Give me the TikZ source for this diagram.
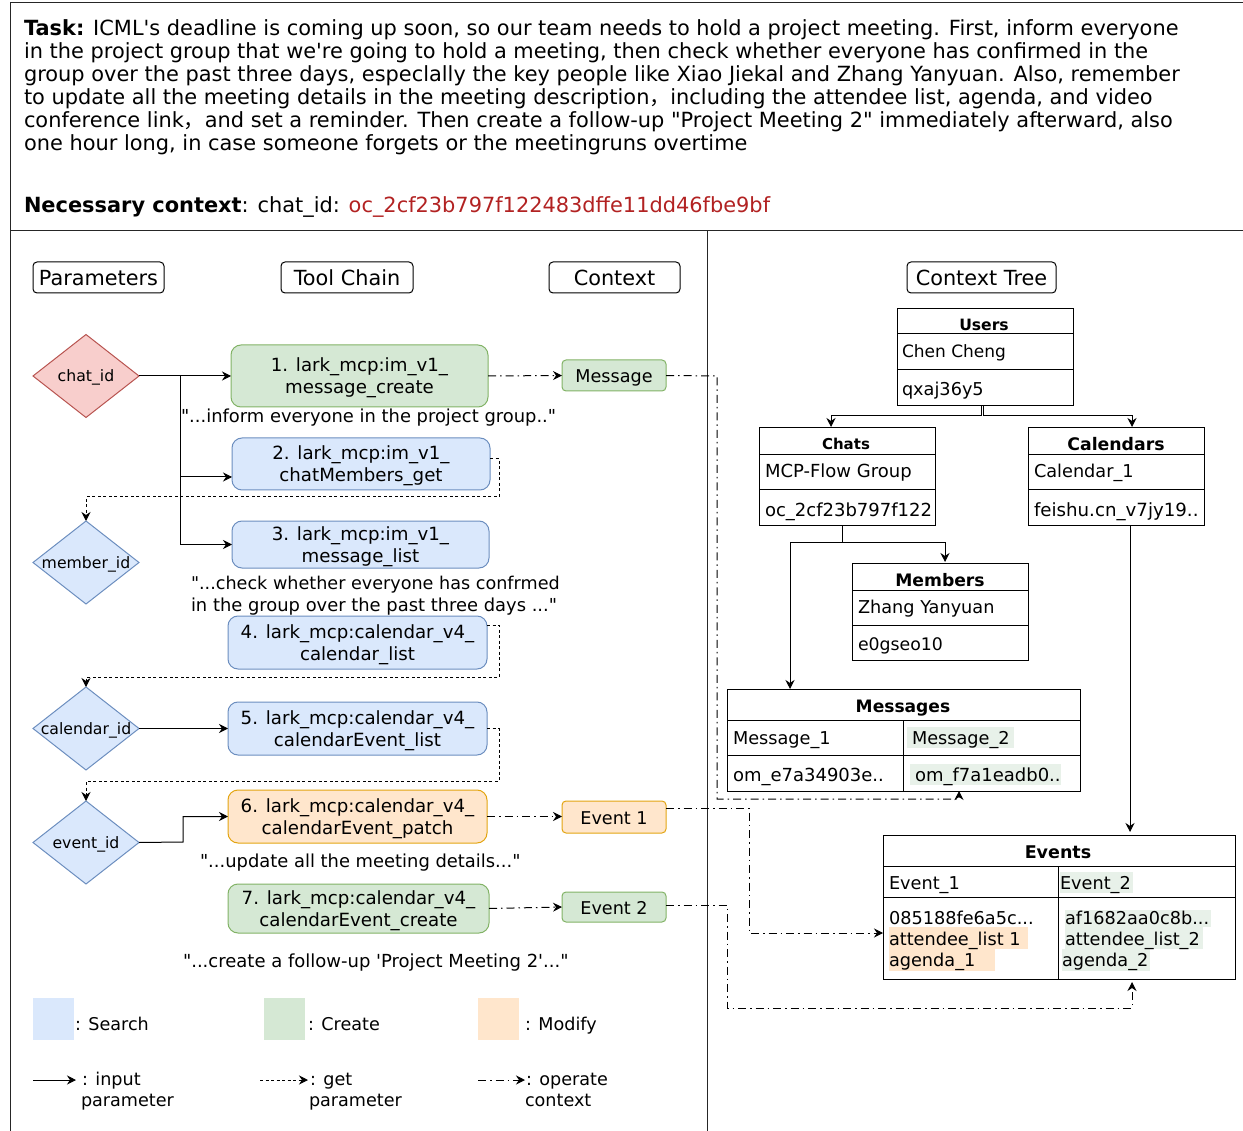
\documentclass[tikz,border=0pt]{standalone}
\usepackage{fontspec}
\setmainfont{DejaVu Sans}[Ligatures=TeXOff]
\newfontfamily\cjkf{Noto Sans CJK SC}
\usetikzlibrary{arrows.meta,shapes.geometric}
\definecolor{bfill}{HTML}{DAE8FC}\definecolor{bline}{HTML}{6C8EBF}
\definecolor{gfill}{HTML}{D5E8D4}\definecolor{gline}{HTML}{82B366}
\definecolor{ofill}{HTML}{FFE6CC}\definecolor{oline}{HTML}{E3A512}
\definecolor{rfill}{HTML}{F8CECC}\definecolor{rline}{HTML}{B85450}
\definecolor{hgreen}{HTML}{E8F1E9}\definecolor{redtxt}{HTML}{B22222}
\newcommand\ptbx[7][]{\node[#1,minimum width={(#4-#2)*1pt},minimum height={(#5-#3)*1pt}] (#6) at ({(#2+#4)/2},{(#3+#5)/2}) {#7};}
\newcommand\fs[1]{\fontsize{#1}{#1}\selectfont}
\newcommand\dtxt[1]{\makebox[0pt]{#1}}
\newcommand\tl{\rule{0pt}{17.5pt}}
\tikzset{
 every node/.style={inner sep=0pt,outer sep=0pt,text=black},
 basic/.style={draw,rectangle,line width=1pt},
 head/.style={basic,rounded corners=4pt,font=\fs{20.8},text height=19.5pt,text depth=3.5pt},
 tool/.style={basic,rounded corners=10pt,align=center,font=\fontsize{18.2}{22}\selectfont},
 ctx/.style={basic,rounded corners=4pt,font=\fs{17.6},text height=17pt,text depth=2.2pt},
 blue/.style={fill=bfill,draw=bline},
 green/.style={fill=gfill,draw=gline},
 orange/.style={fill=ofill,draw=oline},
 dia/.style={diamond,draw,line width=1pt,aspect=1.26,minimum width=106pt,minimum height=83pt,font=\fs{15.7},text height=14pt,text depth=2pt},
 tbl/.style={basic},
 swatch/.style={rectangle},
 hl/.style={rectangle},
 lbl/.style={anchor=base west,font=\fs{17.6}},
 cell/.style={anchor=base west,font=\fs{17.7}},
 ttl/.style={anchor=base},
 task/.style={anchor=base west,font=\fs{20.9}},
 quote/.style={anchor=base west,font=\fs{17.9}},
 arr/.style={-{Stealth[length=9pt,width=9pt,inset=3pt]},line width=1pt},
 input/.style={arr},
 getp/.style={arr,dash pattern=on 3pt off 2.5pt},
 oper/.style={arr,dash pattern=on 8pt off 4pt on 1.5pt off 4pt},
 rule/.style={line width=1pt,draw=black!85},
}
\begin{document}
\begin{tikzpicture}[x=1pt,y=-1pt]
\useasboundingbox (0,0) rectangle (1243,1131);
% frame
\coordinate (fTL) at (10,3);\coordinate (fTR) at (1243,3);\coordinate (fBL) at (10,1131);
\coordinate (mL) at (10,231);\coordinate (mR) at (1243,231);\coordinate (vT) at (707,231);\coordinate (vB) at (707,1131);
\draw[rule] (fTR) -- (fTL) -- (fBL);
\draw[rule] (mL) -- (mR);
\draw[rule] (vT) -- (vB);
% task text
\node[task] (t1) at (24,36) {\textbf{Task:} ICML's deadline is coming up soon, so our team needs to hold a project meeting. First, inform everyone};
\node[task] (t2) at (24,59) {in the project group that we're going to hold a meeting, then check whether everyone has confirmed in the};
\node[task] (t3) at (24,82) {group over the past three days, especlally the key people like Xiao Jiekal and Zhang Yanyuan. Also, remember};
\node[task] (t4) at (24,105) {to update all the meeting details in the meeting description{\cjkf ，}including the attendee list, agenda, and video};
\node[task] (t5) at (24,128) {conference link{\cjkf ，}and set a reminder. Then create a follow-up "Project Meeting 2" immediately afterward, also};
\node[task] (t6) at (24,151) {one hour long, in case someone forgets or the meetingruns overtime};
\node[task] (t7) at (24,213) {\textbf{Necessary context}: chat\_id: \textcolor{redtxt}{oc\_2cf23b797f122483dffe11dd46fbe9bf}};
% headers
\ptbx[head]{33}{262}{164}{293}{hp}{Parameters}
\ptbx[head]{281}{262}{413}{293}{htc}{Tool Chain}
\ptbx[head]{549}{262}{680}{293}{hc}{Context}
\ptbx[head]{907}{262}{1056}{293}{hct}{Context Tree}
% diamonds
\node[dia,fill=rfill,draw=rline] (chat) at (86,376) {\dtxt{chat\_id}};
\node[dia,blue] (member) at (86,562.5) {\dtxt{member\_id}};
\node[dia,blue] (cal) at (86,728.5) {\dtxt{calendar\_id}};
\node[dia,blue] (event) at (86,842.5) {\dtxt{event\_id}};
% tools
\ptbx[tool,green]{231}{345}{488}{407}{a1}{\tl 1. lark\_mcp:im\_v1\_\\message\_create}
\ptbx[tool,blue]{232}{438}{490}{490}{a2}{\tl 2. lark\_mcp:im\_v1\_\\chatMembers\_get}
\ptbx[tool,blue]{232}{521}{489}{568}{a3}{\tl 3. lark\_mcp:im\_v1\_\\message\_list}
\ptbx[tool,blue]{228}{616}{487}{669}{a4}{\tl 4. lark\_mcp:calendar\_v4\_\\calendar\_list}
\ptbx[tool,blue]{228}{702}{487}{755}{a5}{\tl 5. lark\_mcp:calendar\_v4\_\\calendarEvent\_list}
\ptbx[tool,orange]{228}{790}{487}{843}{a6}{\tl 6. lark\_mcp:calendar\_v4\_\\calendarEvent\_patch}
\ptbx[tool,green]{228}{884}{489}{933}{a7}{\tl 7. lark\_mcp:calendar\_v4\_\\calendarEvent\_create}
% context
\ptbx[ctx,green]{562}{360}{666}{391}{cm}{Message}
\ptbx[ctx,orange]{562}{801}{666}{833}{ce1}{Event 1}
\ptbx[ctx,green]{562}{892}{666}{922}{ce2}{Event 2}
% quotes
\node[quote] (q1) at (181,423) {"...inform everyone in the project group.."};
\node[quote,font=\fs{17.6}] (q2) at (191,589) {"...check whether everyone has confrmed};
\node[quote] (q3) at (191,611) {in the group over the past three days ..."};
\node[quote] (q4) at (200,867) {"...update all the meeting details..."};
\node[quote,font=\fs{18}] (q5) at (183,967) {"...create a follow-up 'Project Meeting 2'..."};
% legend
\ptbx[swatch,fill=bfill]{33}{998}{74}{1040}{ls}{}
\ptbx[swatch,fill=gfill]{264}{998}{305}{1040}{lc}{}
\ptbx[swatch,fill=ofill]{478}{998}{519}{1040}{lm}{}
\node[lbl] (lst) at (75,1030) {: Search};
\node[lbl] (lct) at (308,1030) {: Create};
\node[lbl] (lmt) at (525,1030) {: Modify};
\node[lbl] (lit) at (82,1085) {: input};
\node[lbl] (lip) at (81,1106) {parameter};
\node[lbl] (lgt) at (310,1085) {: get};
\node[lbl] (lgp) at (309,1106) {parameter};
\node[lbl] (lot) at (526,1085) {: operate};
\node[lbl] (lop) at (525,1106) {context};
\coordinate (li0) at (33,1080);\coordinate (li1) at (76,1080);
\coordinate (lg0) at (260,1080);\coordinate (lg1) at (308,1080);
\coordinate (lo0) at (478,1080);\coordinate (lo1) at (525,1080);
\draw[input] (li0) -- (li1);
\draw[getp] (lg0) -- (lg1);
\draw[oper] (lo0) -- (lo1);
% tables
\ptbx[tbl]{897}{309}{1073}{334}{uT}{}
\ptbx[tbl]{897}{334}{1073}{370}{uA}{}
\ptbx[tbl]{897}{370}{1073}{406}{uB}{}
\node[ttl,font=\bfseries\fs{15.6}] (uTt) at (984,331) {Users};
\node[cell,font=\fs{17}] (uAt) at (902,358) {Chen Cheng};
\node[cell] (uBt) at (902,396) {qxaj36y5};
\ptbx[tbl]{759}{428}{935}{455}{cT}{}
\ptbx[tbl]{759}{455}{935}{490}{cA}{}
\ptbx[tbl]{759}{490}{935}{525}{cB}{}
\node[ttl,font=\bfseries\fs{15}] (cTt) at (846,450) {Chats};
\node[cell,font=\fs{18}] (cAt) at (765,478) {MCP-Flow Group};
\begin{scope}
\clip (760,491) rectangle (931,524);
\node[cell,font=\fs{18}] (cBt) at (765,517) {oc\_2cf23b797f122483dffe};
\end{scope}
\ptbx[tbl]{1028}{428}{1204}{455}{kT}{}
\ptbx[tbl]{1028}{455}{1204}{490}{kA}{}
\ptbx[tbl]{1028}{490}{1204}{525}{kB}{}
\node[ttl,font=\bfseries\fs{17.3}] (kTt) at (1116,451) {Calendars};
\node[cell] (kAt) at (1034,478) {Calendar\_1};
\node[cell,font=\fs{18.2}] (kBt) at (1034,517) {feishu.cn\_v7jy19..};
\ptbx[tbl]{852}{563}{1028}{590}{mT}{}
\ptbx[tbl]{852}{590}{1028}{625}{mA}{}
\ptbx[tbl]{852}{625}{1028}{660}{mB}{}
\node[ttl,font=\bfseries\fs{17.2}] (mTt) at (940,586) {Members};
\node[cell] (mAt) at (858,613) {Zhang Yanyuan};
\node[cell,font=\fs{17.3}] (mBt) at (858,650) {e0gseo10};
% messages
\ptbx[tbl]{727}{689}{1080}{720}{gT}{}
\ptbx[tbl]{727}{720}{903}{755}{gA}{}
\ptbx[tbl]{903}{720}{1080}{755}{gB}{}
\ptbx[tbl]{727}{755}{903}{791}{gC}{}
\ptbx[tbl]{903}{755}{1080}{791}{gD}{}
\ptbx[hl,fill=hgreen]{907}{727}{1014}{748}{gh1}{}
\ptbx[hl,fill=hgreen]{910}{764}{1061}{785}{gh2}{}
\node[ttl,font=\bfseries\fs{17.1}] (gTt) at (903,712) {Messages};
\node[cell] (gAt) at (733,744) {Message\_1};
\node[cell] (gBt) at (912,744) {Message\_2};
\node[cell,font=\fs{18}] (gCt) at (733,781) {om\_e7a34903e..};
\node[cell,font=\fs{18}] (gDt) at (915,781) {om\_f7a1eadb0..};
% events
\ptbx[tbl]{883}{835}{1235}{866}{eT}{}
\ptbx[tbl]{883}{866}{1058}{897}{eA}{}
\ptbx[tbl]{1058}{866}{1235}{897}{eB}{}
\ptbx[tbl]{883}{897}{1058}{979}{eC}{}
\ptbx[tbl]{1058}{897}{1235}{979}{eD}{}
\ptbx[hl,fill=hgreen]{1060}{872}{1133}{893}{eh1}{}
\ptbx[hl,fill=hgreen]{1065}{910}{1211}{927}{eh2}{}
\ptbx[hl,fill=hgreen]{1065}{927}{1203}{949}{eh3}{}
\ptbx[hl,fill=hgreen]{1062}{949}{1150}{971}{eh4}{}
\ptbx[hl,fill=ofill]{889}{927}{1028}{949}{eh5}{}
\ptbx[hl,fill=ofill]{889}{949}{995}{971}{eh6}{}
\node[ttl,font=\bfseries\fs{17.5}] (eTt) at (1058,858) {Events};
\node[cell] (eAt) at (889,889) {Event\_1};
\node[cell] (eBt) at (1060,889) {Event\_2};
\node[cell] (eC1) at (889,924) {085188fe6a5c...};
\node[cell] (eC2) at (889,945) {attendee\_list 1};
\node[cell] (eC3) at (889,966) {agenda\_1};
\node[cell] (eD1) at (1065,924) {af1682aa0c8b...};
\node[cell] (eD2) at (1065,945) {attendee\_list\_2};
\node[cell] (eD3) at (1062,966) {agenda\_2};
% input connectors
\coordinate (trunk) at (180,376);
\coordinate (a2in) at (232,477);
\draw[input] (chat.east) -- (a1.west);
\draw[input] (chat.east) -- (trunk) -- (trunk |- a2in) -- (a2in);
\draw[input] (trunk) -- (trunk |- a3.west) -- (a3.west);
\draw[input] (cal.east) -- (a5.west);
\coordinate (evb) at (183,842);
\draw[input] (event.east) -- (evb) -- (evb |- a6.west) -- (a6.west);
% get connectors
\coordinate (g2a) at (490,459);\coordinate (g2b) at (499,459);\coordinate (g2c) at (499,497);
\draw[getp] (g2a) -- (g2b) -- (g2c) -- (member.north |- g2c) -- (member.north);
\coordinate (g4a) at (487,625);\coordinate (g4b) at (499,625);\coordinate (g4c) at (499,677);
\draw[getp] (g4a) -- (g4b) -- (g4c) -- (cal.north |- g4c) -- (cal.north);
\coordinate (g5b) at (499,728.5);\coordinate (g5c) at (499,781);
\draw[getp] (a5.east) -- (g5b) -- (g5c) -- (event.north |- g5c) -- (event.north);
% operate connectors
\draw[oper] (a1.east) -- (cm.west);
\coordinate (o1a) at (717,376);\coordinate (o1b) at (717,799);\coordinate (o1c) at (959,799);\coordinate (o1d) at (959,791);
\draw[oper] (cm.east) -- (o1a) -- (o1b) -- (o1c) -- (o1d);
\coordinate (a6r) at (487,816.5);
\draw[oper] (a6r) -- (ce1.west |- a6r);
\coordinate (o2z) at (666,808);\coordinate (o2a) at (749,808);\coordinate (o2b) at (749,933);\coordinate (o2c) at (883,933);
\draw[oper] (o2z) -- (o2a) -- (o2b) -- (o2c);
\draw[oper] (a7.east) -- (ce2.west);
\coordinate (o3z) at (666,905);\coordinate (o3a) at (727,905);\coordinate (o3b) at (727,1008);\coordinate (o3c) at (1132,1008);\coordinate (o3d) at (1132,982);
\draw[oper] (o3z) -- (o3a) -- (o3b) -- (o3c) -- (o3d);
% tree connectors
\coordinate (u1) at (981,406);\coordinate (u2) at (981,416);\coordinate (u3) at (831,416);\coordinate (u4) at (831,427);
\draw[input] (u1) -- (u2) -- (u3) -- (u4);
\coordinate (v1) at (983,406);\coordinate (v2) at (983,416);\coordinate (v3) at (1132,416);\coordinate (v4) at (1132,427);
\draw[input] (v1) -- (v2) -- (v3) -- (v4);
\coordinate (w1) at (842,525);\coordinate (w2) at (842,542);\coordinate (w3) at (790,542);\coordinate (w4) at (790,689);
\draw[input] (w1) -- (w2) -- (w3) -- (w4);
\coordinate (x3) at (945,542);\coordinate (x4) at (945,562);
\draw[input] (w2) -- (x3) -- (x4);
\coordinate (y1) at (1130,525);\coordinate (y2) at (1130,832);
\draw[input] (y1) -- (y2);
\end{tikzpicture}
\end{document}
